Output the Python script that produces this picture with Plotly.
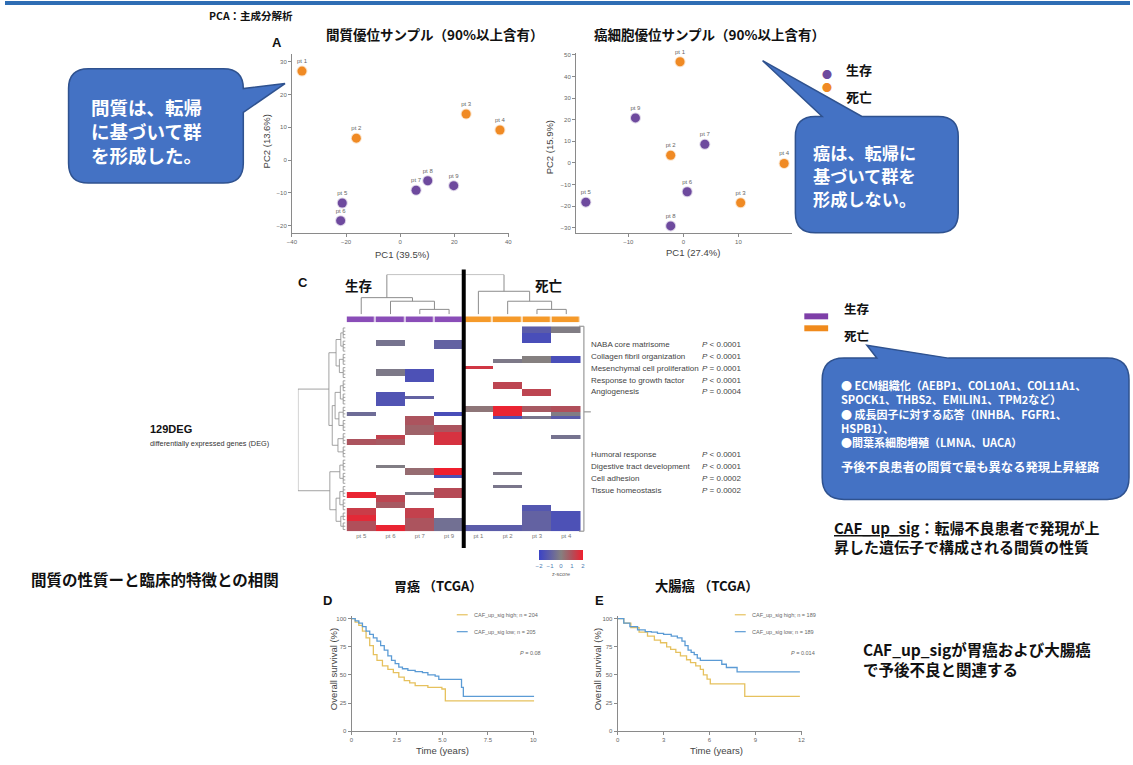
import plotly.graph_objects as go

W, H = 1133, 765
def X(p): return p / W
def Y(p): return 1 - p / H

JP = "Noto Sans CJK JP"
LAT = "Liberation Sans"
PURPLE = "#6E4A9E"
ORANGE = "#F08A24"
BLUE_KM = "#5B9BD5"
YEL_KM = "#E6C15E"

# ---------------- DATA ----------------
# PCA stroma-dominant samples
pca1_labels = ["pt 1", "pt 2", "pt 3", "pt 4", "pt 5", "pt 6", "pt 7", "pt 8", "pt 9"]
pca1_x = [-36.3, -16.2, 24.4, 36.9, -21.4, -22.0, 5.9, 10.2, 19.8]
pca1_y = [27.2, 6.7, 14.1, 9.2, -13.1, -18.5, -9.2, -6.3, -7.8]
pca_group = ["死亡", "死亡", "死亡", "死亡", "生存", "生存", "生存", "生存", "生存"]
# PCA cancer-dominant samples
pca2_labels = ["pt 1", "pt 2", "pt 3", "pt 4", "pt 5", "pt 6", "pt 7", "pt 8", "pt 9"]
pca2_x = [-0.6, -2.3, 10.4, 18.3, -17.7, 0.7, 3.9, -2.3, -8.7]
pca2_y = [46.8, 3.5, -18.5, -0.3, -18.2, -13.4, 8.6, -29.2, 20.8]

# Heatmap (129 DEG, binned rows) : blocks of (column, row start, row end, z-score)
hm_cols = ["pt 5", "pt 6", "pt 7", "pt 9", "pt 1", "pt 2", "pt 3", "pt 4"]
hm_groups = [0, 0, 0, 0, 1, 1, 1, 1]
hm_nrows = 62
blk_col = [0, 0, 0, 0, 0, 0,
           1, 1, 1, 1, 1, 1, 1, 1, 1,
           2, 2, 2, 2, 2, 2, 2, 2,
           3, 3, 3, 3, 3, 3, 3, 3,
           4, 4, 4,
           5, 5, 5, 5, 5, 5, 5,
           6, 6, 6, 6, 6, 6, 6, 6,
           7, 7, 7, 7, 7, 7, 7]
blk_r0 = [26, 34, 50, 55, 57, 59,
          4, 13, 20, 33, 34, 42, 51, 53, 60,
          13, 21, 27, 30, 43, 50, 55, 58,
          4, 26, 30, 32, 43, 45, 49, 58,
          12, 24, 60,
          10, 17, 24, 27, 44, 48, 60,
          0, 2, 9, 19, 24, 27, 54, 56,
          0, 9, 24, 26, 27, 33, 56]
blk_r1 = [27, 36, 52, 57, 59, 62,
          6, 15, 24, 34, 36, 43, 53, 55, 62,
          17, 22, 30, 33, 45, 51, 58, 62,
          7, 27, 32, 36, 45, 46, 52, 62,
          13, 26, 62,
          11, 19, 27, 28, 45, 49, 62,
          2, 5, 11, 21, 26, 28, 56, 62,
          2, 11, 26, 27, 28, 34, 62]
blk_val = [-0.6, 0.9, 1.9, 1.4, 1.8, 1.0,
           -0.4, -0.2, -1.4, 1.3, 0.8, -0.1, 1.2, 0.8, 1.9,
           -1.5, -0.9, 0.9, 0.6, 0.4, -0.2, 1.3, 0.9,
           -0.9, -1.6, 0.9, 1.6, 2.0, -1.5, 1.1, -0.5,
           1.5, 0.2, -1.1,
           -0.2, 1.2, 1.9, -1.5, -0.2, -0.3, -1.1,
           -1.1, -1.6, 0.0, 1.2, 0.8, -0.3, -1.3, -0.9,
           -0.1, -1.6, 1.0, -0.1, -1.1, -0.4, -1.5]

# column dendrogram (leaf a, leaf b, height); new nodes numbered from 8
col_merge_a = [2, 1, 0, 6, 5, 4, 10]
col_merge_b = [3, 8, 9, 7, 11, 12, 13]
col_merge_h = [0.125, 0.33, 0.42, 0.125, 0.33, 0.58, 1.0]

# row dendrogram: leaf groups (start rows) and merges between groups (nodes from 16)
row_group_start = [0, 4, 8, 12, 16, 20, 24, 28, 32, 36, 40, 44, 48, 52, 56, 59]
row_merge_a = [0, 2, 16, 4, 6, 19, 8, 21, 18, 10, 12, 14, 26, 25, 24]
row_merge_b = [1, 3, 17, 5, 7, 20, 9, 22, 23, 11, 13, 15, 27, 28, 29]
row_merge_h = [0.10, 0.13, 0.20, 0.11, 0.14, 0.22, 0.16, 0.28, 0.35, 0.12, 0.12, 0.10, 0.20, 0.33, 1.0]

# enriched pathways
path_top = ["NABA core matrisome", "Collagen fibril organization", "Mesenchymal cell proliferation",
            "Response to growth factor", "Angiogenesis"]
p_top = ["<i>P</i> < 0.0001", "<i>P</i> < 0.0001", "<i>P</i> = 0.0001", "<i>P</i> < 0.0001", "<i>P</i> = 0.0004"]
path_bot = ["Humoral response", "Digestive tract development", "Cell adhesion", "Tissue homeostasis"]
p_bot = ["<i>P</i> < 0.0001", "<i>P</i> < 0.0001", "<i>P</i> = 0.0002", "<i>P</i> = 0.0002"]

# Kaplan-Meier: gastric cancer (TCGA)
kmD_low_t = [0, 0.2, 0.4, 0.6, 0.8, 1.0, 1.2, 1.4, 1.6, 1.8, 2.0, 2.2, 2.4, 2.6, 2.8, 3.1, 3.5, 3.9, 4.2, 4.6, 4.8, 5.9, 6.05, 6.15, 10.05]
kmD_low_s = [100, 98, 96, 93, 89, 86, 83, 80, 76, 72, 67, 63, 60, 57, 55.5, 54, 53, 52, 50, 49, 46, 46, 39, 31, 31]
kmD_high_t = [0, 0.2, 0.4, 0.6, 0.8, 1.0, 1.2, 1.4, 1.7, 2.0, 2.3, 2.6, 2.9, 3.2, 3.5, 4.2, 4.97, 5.16, 10.05]
kmD_high_s = [100, 97, 94, 89, 83, 76, 68, 63, 58, 55, 52, 48, 45, 43, 40.5, 39, 37.5, 27, 27]
# Kaplan-Meier: colorectal cancer (TCGA)
kmE_low_t = [0, 0.4, 0.8, 1.3, 1.8, 2.2, 2.6, 3.0, 3.5, 3.9, 4.2, 4.4, 4.6, 4.8, 5.0, 5.2, 5.4, 6.5, 6.8, 7.1, 7.8, 11.9]
kmE_low_s = [100, 96, 93, 90, 88.5, 88, 87, 86, 84.5, 83, 80, 76, 72, 70, 68, 65, 63, 63, 59.5, 56.6, 52.8, 52.8]
kmE_high_t = [0, 0.4, 0.86, 1.4, 1.95, 2.4, 2.8, 3.2, 3.46, 3.8, 4.1, 4.5, 4.76, 5.1, 5.4, 5.6, 5.84, 6.05, 8.2, 8.3, 11.9]
kmE_high_s = [100, 96, 92, 88, 84.5, 81, 78.6, 75, 72.7, 70, 67, 63.5, 61, 58, 55, 50, 46.3, 42, 42, 31, 31]

# ---------------- FIGURE ----------------
fig = go.Figure()
col_of = {"生存": PURPLE, "死亡": ORANGE}

for xs, ys, labs, ax in [(pca1_x, pca1_y, pca1_labels, ("x", "y")), (pca2_x, pca2_y, pca2_labels, ("x2", "y2"))]:
    fig.add_trace(go.Scatter(
        x=xs, y=ys, text=labs, mode="markers+text", textposition="top center",
        textfont=dict(size=6, color="#666", family=LAT),
        marker=dict(size=9, color=[col_of[g] for g in pca_group],
                    line=dict(width=2, color=["rgba(110,74,158,0.25)" if g == "生存" else "rgba(240,138,36,0.25)" for g in pca_group])),
        xaxis=ax[0], yaxis=ax[1], showlegend=False, cliponaxis=False))

# heatmap
z = [[None] * len(hm_cols) for _ in range(hm_nrows)]
for c, r0, r1, v in zip(blk_col, blk_r0, blk_r1, blk_val):
    for r in range(r0, r1):
        z[r][c] = v
fig.add_trace(go.Heatmap(
    z=z, x=list(range(len(hm_cols))), y=list(range(hm_nrows)), zmin=-2, zmax=2,
    colorscale=[[0, "#3b43c6"], [0.25, "#5f5fa6"], [0.5, "#858080"], [0.75, "#b04f5a"], [1, "#f01f2e"]],
    xaxis="x3", yaxis="y3", hoverongaps=False,
    colorbar=dict(orientation="h", x=X(560), xanchor="center", y=Y(552), yanchor="top",
                  thickness=10, len=44, lenmode="pixels", outlinewidth=0,
                  tickvals=[-2, -1, 0, 1, 2], ticks="", tickfont=dict(size=6, color="#4a7ab0", family=LAT),
                  xpad=0, ypad=0)))
fig.add_trace(go.Heatmap(
    z=[hm_groups], x=list(range(len(hm_cols))), y=[0], zmin=0, zmax=1,
    colorscale=[[0, "#8A4DB8"], [0.5, "#8A4DB8"], [0.5, "#F59A2A"], [1, "#F59A2A"]],
    showscale=False, xgap=1.5, xaxis="x4", yaxis="y4"))

# column dendrogram
pos = list(range(len(hm_cols))); hgt = [0.0] * len(hm_cols)
dx, dy = [], []
for a, b, h in zip(col_merge_a, col_merge_b, col_merge_h):
    dx += [pos[a], pos[a], pos[b], pos[b], None]
    dy += [hgt[a], h, h, hgt[b], None]
    pos.append((pos[a] + pos[b]) / 2); hgt.append(h)
fig.add_trace(go.Scatter(x=dx, y=dy, mode="lines", line=dict(color="#8c8c8c", width=1),
                         xaxis="x5", yaxis="y5", showlegend=False, hoverinfo="skip"))

# row dendrogram
fan = 0.05
rpos, rhgt = [], []
rx, ry = [], []
ends = row_group_start[1:] + [hm_nrows]
for s, e in zip(row_group_start, ends):
    for r in range(s, e):
        rx += [0, fan, None]; ry += [r, r, None]
    rx += [fan, fan, None]; ry += [s, e - 1, None]
    rpos.append((s + e - 1) / 2); rhgt.append(fan)
for a, b, h in zip(row_merge_a, row_merge_b, row_merge_h):
    rx += [rhgt[a], h, h, rhgt[b], None]
    ry += [rpos[a], rpos[a], rpos[b], rpos[b], None]
    rpos.append((rpos[a] + rpos[b]) / 2); rhgt.append(h)
fig.add_trace(go.Scatter(x=rx, y=ry, mode="lines", line=dict(color="#8c8c8c", width=0.8),
                         xaxis="x6", yaxis="y6", showlegend=False, hoverinfo="skip"))

# Kaplan-Meier
for t, s, c, ax in [(kmD_high_t, kmD_high_s, YEL_KM, ("x7", "y7")), (kmD_low_t, kmD_low_s, BLUE_KM, ("x7", "y7")),
                    (kmE_high_t, kmE_high_s, YEL_KM, ("x8", "y8")), (kmE_low_t, kmE_low_s, BLUE_KM, ("x8", "y8"))]:
    fig.add_trace(go.Scatter(x=t, y=s, mode="lines", line=dict(color=c, width=1.3, shape="hv"),
                             xaxis=ax[0], yaxis=ax[1], showlegend=False))

# ---------------- AXES ----------------
base_ax = dict(showgrid=False, zeroline=False, showline=True, linecolor="#8a8a8a", linewidth=1,
               ticks="outside", ticklen=3, tickcolor="#8a8a8a", tickfont=dict(size=6, color="#666", family=LAT))
hidden = dict(visible=False, showgrid=False, zeroline=False)
fig.update_layout(
    xaxis=dict(base_ax, domain=[X(289), X(508)], range=[-40, 40.4], tickvals=[-40, -20, 0, 20, 40], anchor="y"),
    yaxis=dict(base_ax, domain=[Y(233), Y(53)], range=[-22.2, 32.5], tickvals=[-20, -10, 0, 10, 20, 30], anchor="x"),
    xaxis2=dict(base_ax, domain=[X(575), X(793)], range=[-19.5, 19.8], tickvals=[-10, 0, 10], anchor="y2"),
    yaxis2=dict(base_ax, domain=[Y(233), Y(52)], range=[-32.4, 51], tickvals=[-30, -20, -10, 0, 10, 20, 30, 40, 50], anchor="x2"),
    xaxis3=dict(domain=[X(344), X(580)], range=[-0.5, 7.5], anchor="y3", showgrid=False, zeroline=False,
                showline=False, tickvals=list(range(8)), ticktext=hm_cols, ticks="",
                tickfont=dict(size=6, color="#777", family=LAT)),
    yaxis3=dict(hidden, domain=[Y(533), Y(327)], range=[hm_nrows - 0.5, -0.5], anchor="x3"),
    xaxis4=dict(hidden, domain=[X(344), X(580)], range=[-0.5, 7.5], anchor="y4"),
    yaxis4=dict(hidden, domain=[Y(323), Y(317)], range=[-0.5, 0.5], anchor="x4"),
    xaxis5=dict(hidden, domain=[X(344), X(580)], range=[-0.5, 7.5], anchor="y5"),
    yaxis5=dict(hidden, domain=[Y(315), Y(275)], range=[0, 1], anchor="x5"),
    xaxis6=dict(hidden, domain=[X(295), X(343)], range=[1.0, 0], anchor="y6"),
    yaxis6=dict(hidden, domain=[Y(533), Y(327)], range=[hm_nrows - 0.5, -0.5], anchor="x6"),
    xaxis7=dict(base_ax, domain=[X(349), X(533)], range=[0, 10.05], tickvals=[0, 2.5, 5, 7.5, 10],
                ticktext=["0", "2.5", "5.0", "7.5", "10"], anchor="y7"),
    yaxis7=dict(base_ax, domain=[Y(734), Y(618)], range=[0, 102.6], tickvals=[0, 25, 50, 75, 100], anchor="x7"),
    xaxis8=dict(base_ax, domain=[X(617), X(803)], range=[0, 12.06], tickvals=[0, 3, 6, 9, 12], anchor="y8"),
    yaxis8=dict(base_ax, domain=[Y(734), Y(618)], range=[0, 102.6], tickvals=[0, 25, 50, 75, 100], anchor="x8"),
)

# ---------------- SHAPES ----------------
def P(x, y):
    return f"{x / W:.5f},{1 - y / H:.5f}"

def callout(x0, y0, x1, y1, r, side, a, b, tx, ty):
    s = f"M{P(x0 + r, y0)}"
    if side == "top":
        s += f" L{P(a, y0)} L{P(tx, ty)} L{P(b, y0)}"
    s += f" L{P(x1 - r, y0)} Q{P(x1, y0)} {P(x1, y0 + r)}"
    if side == "right":
        s += f" L{P(x1, a)} L{P(tx, ty)} L{P(x1, b)}"
    s += (f" L{P(x1, y1 - r)} Q{P(x1, y1)} {P(x1 - r, y1)} L{P(x0 + r, y1)} Q{P(x0, y1)} {P(x0, y1 - r)}"
          f" L{P(x0, y0 + r)} Q{P(x0, y0)} {P(x0 + r, y0)} Z")
    return dict(type="path", xref="paper", yref="paper", path=s, fillcolor="#4472C4",
                line=dict(color="#2F528F", width=1.5), layer="above")

shapes = [
    dict(type="rect", xref="paper", yref="paper", x0=0, x1=1, y0=Y(4), y1=1, fillcolor="#2E6DB4", line=dict(width=0)),
    callout(64, 68, 240, 183, 20, "right", 88, 112, 282, 83),
    callout(796, 116, 960, 233, 20, "top", 823, 863, 763, 60),
    callout(823, 359, 1132, 501, 22, "top", 878, 950, 868, 346),
    # separator between groups
    dict(type="line", xref="x3", yref="paper", x0=3.5, x1=3.5, y0=Y(550), y1=Y(270), line=dict(color="black", width=4)),
    # right bracket
    dict(type="line", xref="paper", yref="paper", x0=X(583), x1=X(583), y0=Y(533), y1=Y(327), line=dict(color="#9a9a9a", width=1.2)),
    dict(type="line", xref="paper", yref="paper", x0=X(578), x1=X(583), y0=Y(327), y1=Y(327), line=dict(color="#9a9a9a", width=1.2)),
    dict(type="line", xref="paper", yref="paper", x0=X(578), x1=X(583), y0=Y(533), y1=Y(533), line=dict(color="#9a9a9a", width=1.2)),
    dict(type="line", xref="paper", yref="paper", x0=X(583), x1=X(590), y0=Y(413), y1=Y(413), line=dict(color="#9a9a9a", width=1.2)),
    # middle legend bars
    dict(type="rect", xref="paper", yref="paper", x0=X(805), x1=X(829), y0=Y(320), y1=Y(314), fillcolor="#7E3FA8", line=dict(width=0)),
    dict(type="rect", xref="paper", yref="paper", x0=X(805), x1=X(829), y0=Y(332), y1=Y(326), fillcolor="#F08A1C", line=dict(width=0)),
    # KM legend line samples
    dict(type="line", xref="paper", yref="paper", x0=X(455), x1=X(466), y0=Y(617), y1=Y(617), line=dict(color=YEL_KM, width=1.2)),
    dict(type="line", xref="paper", yref="paper", x0=X(455), x1=X(466), y0=Y(634), y1=Y(634), line=dict(color=BLUE_KM, width=1.2)),
    dict(type="line", xref="paper", yref="paper", x0=X(735), x1=X(746), y0=Y(617), y1=Y(617), line=dict(color=YEL_KM, width=1.2)),
    dict(type="line", xref="paper", yref="paper", x0=X(735), x1=X(746), y0=Y(634), y1=Y(634), line=dict(color=BLUE_KM, width=1.2)),
]
fig.update_layout(shapes=shapes)

# ---------------- TEXT ----------------
ann = []
def T(x, y, text, size, color="#111", family=JP, xa="left", ya="middle", angle=0):
    ann.append(dict(x=X(x), y=Y(y), xref="paper", yref="paper", text=text, showarrow=False, align="left",
                    xanchor=xa, yanchor=ya, textangle=angle, font=dict(size=size, color=color, family=family)))

T(203, 15, "<b>PCA：主成分解析</b>", 10.5)
T(267, 42, "<b>A</b>", 13, family=LAT)
T(433, 33, "<b>間質優位サンプル（90%以上含有）</b>", 13.5, xa="center")
T(710, 33, "<b>癌細胞優位サンプル（90%以上含有）</b>", 13.5, xa="center")
T(400, 255, "PC1 (39.5%)", 9.5, "#444", LAT, xa="center")
T(263, 141, "PC2 (13.6%)", 9.5, "#444", LAT, xa="center", angle=-90)
T(693, 253, "PC1 (27.4%)", 9.5, "#444", LAT, xa="center")
T(548, 147, "PC2 (15.9%)", 9.5, "#444", LAT, xa="center", angle=-90)
# PCA legend
T(828, 74, "●", 10, PURPLE, xa="center")
T(828, 87, "●", 10, ORANGE, xa="center")
T(845, 69, "<b>生存</b>", 13)
T(845, 96, "<b>死亡</b>", 13)
# callout texts
T(85, 130.5, "<b>間質は、転帰<br>に基づいて群<br>を形成した。</b>", 18.5, "white")
for i, line in enumerate(["癌は、転帰に", "基づいて群を", "形成しない。"]):
    T(812, 152 + 23.5 * i, f"<b>{line}</b>", 17.2, "white")
bullets = ["● ECM組織化（AEBP1、COL10A1、COL11A1、", "SPOCK1、THBS2、EMILIN1、TPM2など）",
           "● 成長因子に対する応答（INHBA、FGFR1、", "HSPB1）、", "●間葉系細胞増殖（LMNA、UACA）"]
T(840, 415, "<b>" + "<br>".join(bullets) + "</b>", 11, "white")
T(840, 468, "<b>予後不良患者の間質で最も異なる発現上昇経路</b>", 12.3, "white")
# heatmap texts
T(300, 283, "<b>C</b>", 13, family=LAT, xa="center")
T(356, 285, "<b>生存</b>", 13.5, xa="center")
T(547, 285, "<b>死亡</b>", 13.5, xa="center")
T(560, 576, "z-score", 5.5, "#666", LAT, xa="center")
T(144, 430, "<b>129DEG</b>", 11, family=LAT)
T(144, 445, "differentially expressed genes (DEG)", 7.3, "#333", LAT)
for i, (p, v) in enumerate(zip(path_top, p_top)):
    T(588, 345 + 12 * i, p, 8, "#444", LAT)
    T(700, 345 + 12 * i, v, 8, "#444", LAT)
for i, (p, v) in enumerate(zip(path_bot, p_bot)):
    T(588, 456 + 12 * i, p, 8, "#444", LAT)
    T(700, 456 + 12 * i, v, 8, "#444", LAT)
T(843, 309, "<b>生存</b>", 12.5)
T(843, 336, "<b>死亡</b>", 12.5)
T(833, 529, "<b><u>CAF_up_sig</u>：転帰不良患者で発現が上</b>", 15)
T(833, 548, "<b>昇した遺伝子で構成される間質の性質</b>", 15)
# bottom
T(24, 581, "<b>間質の性質ーと臨床的特徴との相関</b>", 15.5)
T(436, 588, "<b>胃癌 （TCGA）</b>", 13, xa="center")
T(707, 588, "<b>大腸癌 （TCGA）</b>", 13.3, xa="center")
T(318, 603, "<b>D</b>", 13, family=LAT)
T(592, 603, "<b>E</b>", 13, family=LAT)
T(470, 617, "CAF_up_sig high; n = 204", 5.5, "#666", LAT)
T(470, 634, "CAF_up_sig low; n = 205", 5.5, "#666", LAT)
T(517, 655, "<i>P</i> = 0.08", 5.5, "#666", LAT)
T(750, 617, "CAF_up_sig high; n = 189", 5.5, "#666", LAT)
T(750, 634, "CAF_up_sig low; n = 189", 5.5, "#666", LAT)
T(790, 655, "<i>P</i> = 0.014", 5.5, "#666", LAT)
T(331, 672, "Overall survival (%)", 9.5, "#444", LAT, xa="center", angle=-90)
T(597, 672, "Overall survival (%)", 9.5, "#444", LAT, xa="center", angle=-90)
T(441, 753, "Time (years)", 9.5, "#444", LAT, xa="center")
T(717, 753, "Time (years)", 9.5, "#444", LAT, xa="center")
T(862, 651, "<b>CAF_up_sigが胃癌および大腸癌</b>", 15.5)
T(862, 672, "<b>で予後不良と関連する</b>", 15.5)

fig.update_layout(annotations=ann, width=W, height=H, margin=dict(l=0, r=0, t=0, b=0),
                  paper_bgcolor="white", plot_bgcolor="white", showlegend=False,
                  font=dict(family=JP))
fig.write_html("out.html")
